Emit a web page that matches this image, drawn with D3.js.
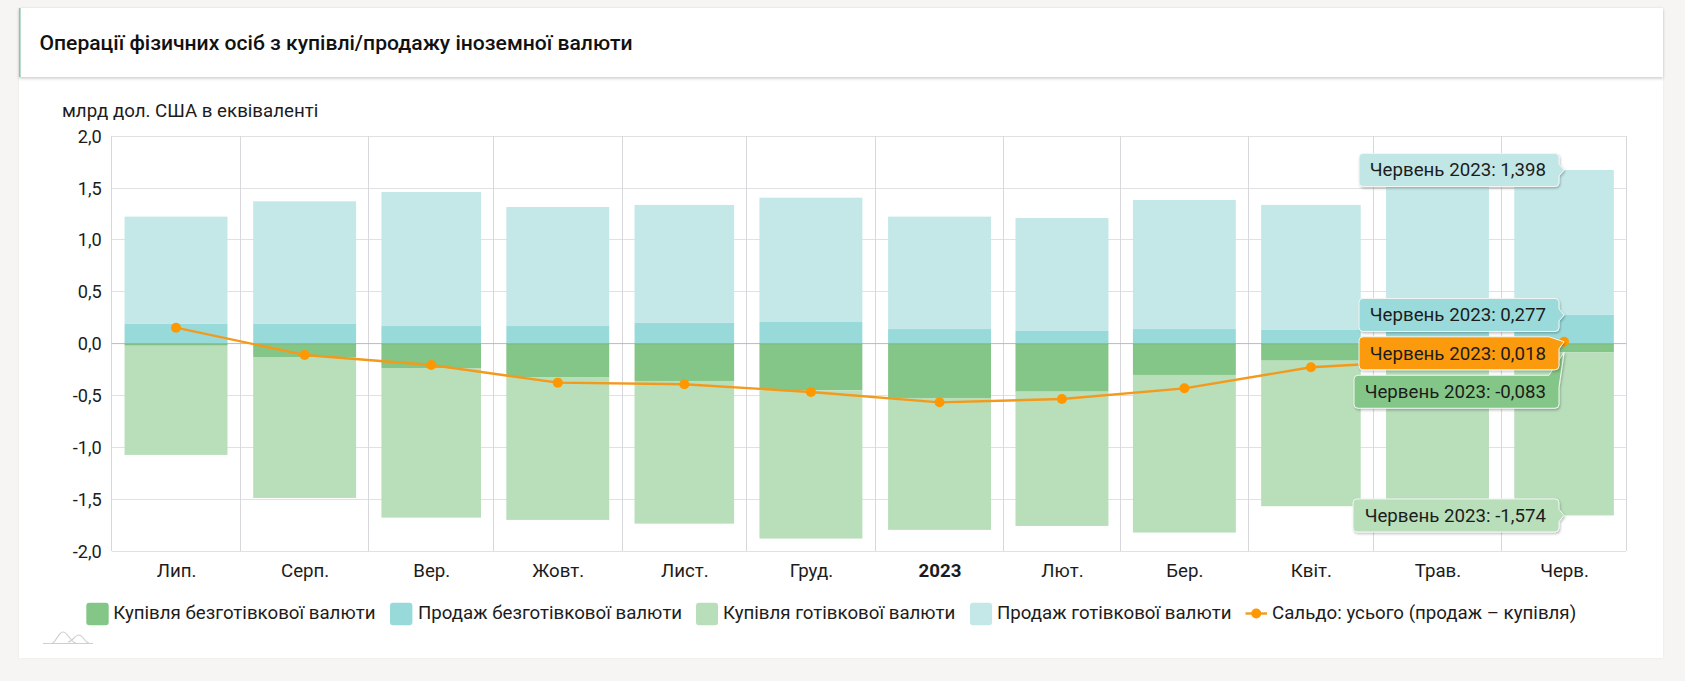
<!DOCTYPE html>
<html lang="uk">
<head>
<meta charset="utf-8">
<script src="https://cdn.jsdelivr.net/npm/d3@7/dist/d3.min.js"></script>
<style>
html,body{margin:0;padding:0;background:#f6f5f3;overflow:hidden;font-family:Roboto,sans-serif;}
svg{display:block;}
text{font-family:Roboto,sans-serif;fill:#1c1c1c;}
</style>
</head>
<body>
<svg id="chart" width="1685" height="681"></svg>
<script>
const months = ["2022-07-01","2022-08-01","2022-09-01","2022-10-01","2022-11-01","2022-12-01","2023-01-01","2023-02-01","2023-03-01","2023-04-01","2023-05-01","2023-06-01"];
const monthLabels = ["Лип.","Серп.","Вер.","Жовт.","Лист.","Груд.","2023","Лют.","Бер.","Квіт.","Трав.","Черв."];
const nonCashSale = [0.19,0.19,0.17,0.17,0.20,0.209,0.141,0.122,0.141,0.132,0.17,0.277];
const cashSale = [1.035,1.183,1.293,1.148,1.138,1.199,1.084,1.09,1.245,1.206,1.41,1.398];
const nonCashBuy = [-0.02,-0.129,-0.235,-0.322,-0.36,-0.45,-0.524,-0.463,-0.302,-0.164,-0.11,-0.083];
const cashBuy = [-1.053,-1.359,-1.443,-1.378,-1.376,-1.43,-1.272,-1.295,-1.52,-1.404,-1.63,-1.574];
const balance = [0.154,-0.109,-0.206,-0.376,-0.392,-0.466,-0.566,-0.534,-0.431,-0.228,-0.16,0.018];
const yTicks = [-2,-1.5,-1,-0.5,0,0.5,1,1.5,2];
const seriesNames = {
  nonCashBuy:"Купівля безготівкової валюти",
  nonCashSale:"Продаж безготівкової валюти",
  cashBuy:"Купівля готівкової валюти",
  cashSale:"Продаж готівкової валюти",
  balance:"Сальдо: усього (продаж – купівля)"
};
const colors = {nonCashBuy:"#84c687",nonCashSale:"#98dada",cashBuy:"#b8deba",cashSale:"#c4e8e8",balance:"#ff9800"};
const tooltipLabel = "Червень 2023: ";

const plot = {left:111.7,right:1626.3,top:136.3,bottom:551};
const svg = d3.select("#chart");
const dates = months.map(d=>new Date(d+"T00:00:00Z"));
const endDate = new Date(Date.UTC(2023,6,1));
const edges = dates.concat([endDate]);
const x = d3.scaleUtc().domain([dates[0],endDate]).range([plot.left,plot.right]);
const y = d3.scaleLinear().domain([-2,2]).range([plot.bottom,plot.top]);
const mid = i => new Date((+edges[i]+ +edges[i+1])/2);
const fmt1 = d3.formatLocale({decimal:",",thousands:" ",grouping:[3],currency:["",""],minus:"-"}).format(".1f");
const fmt3 = d3.formatLocale({decimal:",",thousands:" ",grouping:[3],currency:["",""],minus:"-"}).format(".3f");

// page card
svg.append("defs").html(`
<filter id="hdr" x="-2%" y="-10%" width="104%" height="130%"><feDropShadow dx="0" dy="1.5" stdDeviation="1.5" flood-color="#000" flood-opacity="0.2"/></filter>
<filter id="card" x="-2%" y="-2%" width="104%" height="104%"><feDropShadow dx="0" dy="0" stdDeviation="1" flood-color="#000" flood-opacity="0.06"/></filter>
<filter id="tip" x="-10%" y="-30%" width="125%" height="170%"><feDropShadow dx="1" dy="1.5" stdDeviation="1.2" flood-color="#000" flood-opacity="0.25"/></filter>`);
svg.append("rect").attr("x",19).attr("y",8).attr("width",1644).attr("height",650).attr("fill","#fff").attr("filter","url(#card)");
svg.append("rect").attr("x",19).attr("y",8).attr("width",1644).attr("height",69).attr("fill","#fff").attr("filter","url(#hdr)");
svg.append("rect").attr("x",19).attr("y",8).attr("width",1.6).attr("height",69).attr("fill","#8cc5ad");
svg.append("text").attr("x",39.5).attr("y",50).attr("font-size",21.1).attr("font-weight",500).style("fill","#111").text("Операції фізичних осіб з купівлі/продажу іноземної валюти");
svg.append("text").attr("x",62).attr("y",117).attr("font-size",18.7).text("млрд дол. США в еквіваленті");

// grid
const grid = svg.append("g").attr("shape-rendering","crispEdges");
grid.selectAll("line.h").data(yTicks).join("line").attr("class","h")
  .attr("x1",plot.left).attr("x2",plot.right).attr("y1",d=>y(d)).attr("y2",d=>y(d)).attr("stroke","#e1e1e1").attr("stroke-width",1);
grid.selectAll("line.v").data(edges).join("line").attr("class","v")
  .attr("x1",d=>x(d)).attr("x2",d=>x(d)).attr("y1",plot.top).attr("y2",plot.bottom).attr("stroke","#d8d8dc").attr("stroke-width",1);

// stacked bars
const table = months.map((m,i)=>({i,nonCashBuy:nonCashBuy[i],nonCashSale:nonCashSale[i],cashBuy:cashBuy[i],cashSale:cashSale[i]}));
const keys = ["nonCashBuy","nonCashSale","cashBuy","cashSale"];
const stacked = d3.stack().keys(keys).offset(d3.stackOffsetDiverging)(table);
const pad = 0.1;
svg.append("g").selectAll("g").data(stacked).join("g").attr("fill",s=>colors[s.key])
  .selectAll("rect").data(s=>s).join("rect")
  .attr("x",d=>{const a=x(edges[d.data.i]),b=x(edges[d.data.i+1]);return a+(b-a)*pad;})
  .attr("width",d=>{const a=x(edges[d.data.i]),b=x(edges[d.data.i+1]);return (b-a)*(1-2*pad);})
  .attr("y",d=>y(Math.max(d[0],d[1])))
  .attr("height",d=>Math.abs(y(d[0])-y(d[1])));

// zero line
svg.append("line").attr("x1",plot.left).attr("x2",plot.right).attr("y1",y(0)).attr("y2",y(0)).attr("stroke","#000").attr("stroke-opacity",0.17).attr("stroke-width",1);

// balance line
const line = d3.line().x((d,i)=>x(mid(i))).y(d=>y(d));
svg.append("path").attr("d",line(balance)).attr("fill","none").attr("stroke","#f39a1c").attr("stroke-width",2.4);
svg.append("g").selectAll("circle").data(balance).join("circle")
  .attr("cx",(d,i)=>x(mid(i))).attr("cy",d=>y(d)).attr("r",5).attr("fill",colors.balance);

// axes
const ax = svg.append("g").attr("transform",`translate(0,${plot.bottom})`)
  .call(d3.axisBottom(x).tickValues(dates.map((d,i)=>mid(i))).tickSize(0).tickPadding(0).tickFormat((d,i)=>monthLabels[i]));
ax.select(".domain").remove();
ax.selectAll("text").attr("y",26).attr("dy",0).attr("font-size",18.7).attr("font-family","Roboto,sans-serif")
  .attr("font-weight",(d,i)=>monthLabels[i]==="2023"?700:400).style("fill","#1c1c1c");
const ay = svg.append("g").attr("transform",`translate(101.7,0)`)
  .call(d3.axisLeft(y).tickValues(yTicks).tickSize(0).tickPadding(0).tickFormat(fmt1));
ay.select(".domain").remove();
ay.selectAll("text").attr("font-size",18.2).attr("font-family","Roboto,sans-serif").attr("dy",6).style("fill","#1c1c1c");

// legend
const legendItems = [
 {k:"nonCashBuy",sx:86.3,sw:22.4,tx:113.3},
 {k:"nonCashSale",sx:390,sw:22.4,tx:418},
 {k:"cashBuy",sx:696,sw:22,tx:723},
 {k:"cashSale",sx:970,sw:22,tx:997},
 {k:"balance",line:[1245.5,1267],tx:1272}
];
const lg = svg.append("g");
legendItems.forEach(it=>{
  if(it.line){
    lg.append("line").attr("x1",it.line[0]).attr("x2",it.line[1]).attr("y1",613.5).attr("y2",613.5).attr("stroke","#f39a1c").attr("stroke-width",2.4);
    lg.append("circle").attr("cx",(it.line[0]+it.line[1])/2).attr("cy",613.5).attr("r",5).attr("fill",colors.balance);
  } else {
    lg.append("rect").attr("x",it.sx).attr("y",602.7).attr("width",it.sw).attr("height",22.5).attr("rx",3).attr("fill",colors[it.k]);
  }
  lg.append("text").attr("x",it.tx).attr("y",619).attr("font-size",18.7).text(seriesNames[it.k]);
});

// logo squiggle
const logo = svg.append("g").attr("fill","none").attr("stroke","#cfcfcf").attr("stroke-width",1.2);
logo.append("path").attr("d","M43 643.5 H93");
logo.append("path").attr("d","M52 643 C56 643 58 632 63 632 C68 632 71 643 76 643");
logo.append("path").attr("d","M68 642 C72 642 75 635 79 635 C83 635 85 643 89 643");

// tooltips for June 2023
const J = months.length-1;
const tipX = x(mid(J));
const tips = [
 {v:cashSale[J],at:nonCashSale[J]+cashSale[J],fill:"#c1e6e6",dy:0,w:200},
 {v:nonCashSale[J],at:nonCashSale[J],fill:"#9adada",dy:0,w:200},
 {v:nonCashBuy[J],at:nonCashBuy[J],fill:"#84c687",dy:23,w:205,tipTop:true},
 {v:balance[J],at:balance[J],fill:"#fb9a0b",dy:-5,w:200,tipTop:true},
 {v:cashBuy[J],at:nonCashBuy[J]+cashBuy[J],fill:"#b8deba",dy:0,w:206}
];
const tipG = svg.append("g");
const h = 33, right = 1559, r=4;
tips.forEach(t=>{
  const py = y(t.at), top = py - h/2 + (t.tipTop ? t.dy + h/2 : 0), left = right - t.w, bot = top + h;
  let d;
  if(t.tipTop){
    d = `M${left+r} ${top}H${right-r-6}L${tipX} ${py}L${right} ${top+r+8}V${bot-r}Q${right} ${bot} ${right-r} ${bot}H${left+r}Q${left} ${bot} ${left} ${bot-r}V${top+r}Q${left} ${top} ${left+r} ${top}Z`;
  } else {
    d = `M${left+r} ${top}H${right-r}Q${right} ${top} ${right} ${top+r}V${py-6}L${tipX} ${py}L${right} ${py+6}V${bot-r}Q${right} ${bot} ${right-r} ${bot}H${left+r}Q${left} ${bot} ${left} ${bot-r}V${top+r}Q${left} ${top} ${left+r} ${top}Z`;
  }
  tipG.append("path").attr("d",d).attr("fill",t.fill).attr("stroke","#f2f7f4").attr("stroke-width",1).attr("filter","url(#tip)");
  tipG.append("text").attr("x",1546).attr("y",top+h/2+6.5).attr("text-anchor","end").attr("font-size",18.7).text(tooltipLabel+fmt3(t.v));
});
</script>
</body>
</html>
